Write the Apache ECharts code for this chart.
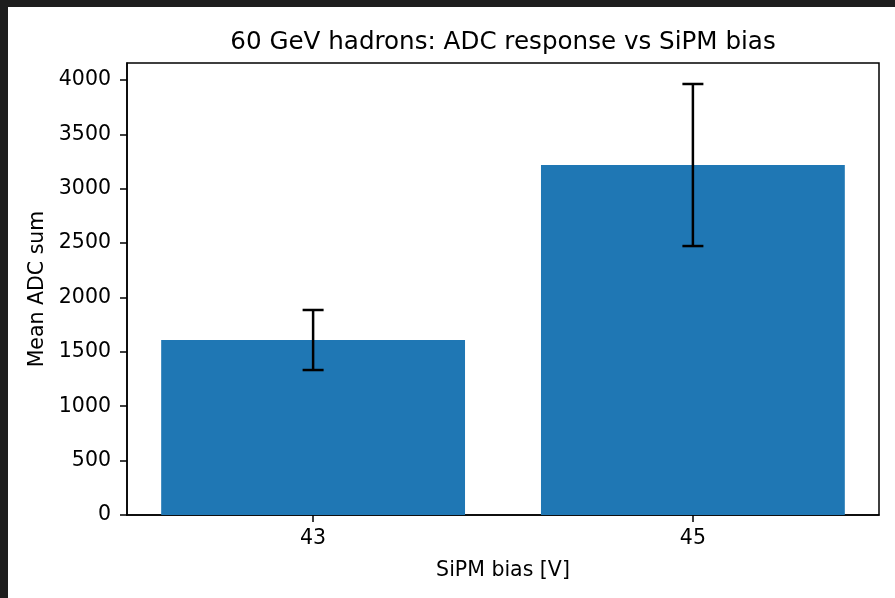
<!DOCTYPE html>
<html>
<head>
<meta charset="utf-8">
<script src="https://cdn.jsdelivr.net/npm/echarts@6/dist/echarts.min.js"></script>
<style>
  html, body { margin: 0; padding: 0; background: #1e1e1e; }
  #chart { width: 895px; height: 598px; }
</style>
</head>
<body>
<div id="chart"></div>
<script>
// Bias settings and measured mean ADC sums with their spread
const biasLabels = ['43', '45'];
const meanAdc = [1609, 3218];
const adcError = [276, 745];
const yTicks = [0, 500, 1000, 1500, 2000, 2500, 3000, 3500, 4000];

const FONT = 'DejaVu Sans';
const barData = meanAdc.map((v, i) => [i, v]);
const errData = meanAdc.map((v, i) => [i, v - adcError[i], v + adcError[i]]);

const chart = echarts.init(document.getElementById('chart'), null, { renderer: 'canvas' });

chart.setOption({
  backgroundColor: '#1e1e1e',
  animation: false,
  graphic: [
    { type: 'rect', z: -10, shape: { x: 8, y: 7, width: 887, height: 591 }, style: { fill: '#ffffff' } },
    {
      type: 'text', x: 503, y: 43,
      style: {
        text: '60 GeV hadrons: ADC response vs SiPM bias',
        font: '24.6px "DejaVu Sans"', fill: '#000',
        textAlign: 'center', textVerticalAlign: 'middle'
      }
    }
  ],
  grid: {
    left: 127, top: 63, right: 16, bottom: 83,
    show: true, borderColor: '#000', borderWidth: 1.5, backgroundColor: 'transparent'
  },
  xAxis: {
    type: 'value', min: -0.49, max: 1.49,
    name: 'SiPM bias [V]', nameLocation: 'middle', nameGap: 45,
    nameTextStyle: { fontFamily: FONT, fontSize: 20.5, color: '#000' },
    axisLine: { show: true, onZero: false, lineStyle: { color: '#000', width: 1.5 } },
    axisTick: { show: true, length: 7, customValues: [0, 1], lineStyle: { color: '#000', width: 1.5 } },
    axisLabel: {
      customValues: [0, 1], margin: 13,
      formatter: v => biasLabels[Math.round(v)] ?? '',
      fontFamily: FONT, fontSize: 20.5, color: '#000'
    },
    splitLine: { show: false }
  },
  yAxis: {
    type: 'value', min: 0, max: 4156,
    name: 'Mean ADC sum', nameLocation: 'middle', nameGap: 75,
    nameTextStyle: { fontFamily: FONT, fontSize: 20.5, color: '#000' },
    axisLine: { show: true, onZero: false, lineStyle: { color: '#000', width: 1.5 } },
    axisTick: { show: true, length: 7, customValues: yTicks, lineStyle: { color: '#000', width: 1.5 } },
    axisLabel: {
      customValues: yTicks, margin: 16,
      formatter: v => String(v),
      fontFamily: FONT, fontSize: 20.5, color: '#000'
    },
    splitLine: { show: false }
  },
  series: [
    {
      type: 'custom',
      data: barData,
      renderItem: (params, api) => {
        const x = api.value(0), v = api.value(1);
        const p0 = api.coord([x - 0.4, v]);
        const p1 = api.coord([x + 0.4, 0]);
        return {
          type: 'rect',
          shape: { x: p0[0], y: p0[1], width: p1[0] - p0[0], height: p1[1] - p0[1] },
          style: { fill: '#1f77b4' }
        };
      },
      z: 2
    },
    {
      type: 'custom',
      data: errData,
      renderItem: (params, api) => {
        const x = api.value(0);
        const lo = api.coord([x, api.value(1)]);
        const hi = api.coord([x, api.value(2)]);
        const cap = 10.5;
        const st = { stroke: '#000', lineWidth: 2.5 };
        return {
          type: 'group',
          children: [
            { type: 'line', shape: { x1: lo[0], y1: lo[1], x2: hi[0], y2: hi[1] }, style: st },
            { type: 'line', shape: { x1: lo[0] - cap, y1: lo[1], x2: lo[0] + cap, y2: lo[1] }, style: st },
            { type: 'line', shape: { x1: hi[0] - cap, y1: hi[1], x2: hi[0] + cap, y2: hi[1] }, style: st }
          ]
        };
      },
      z: 3
    }
  ]
});
</script>
</body>
</html>
